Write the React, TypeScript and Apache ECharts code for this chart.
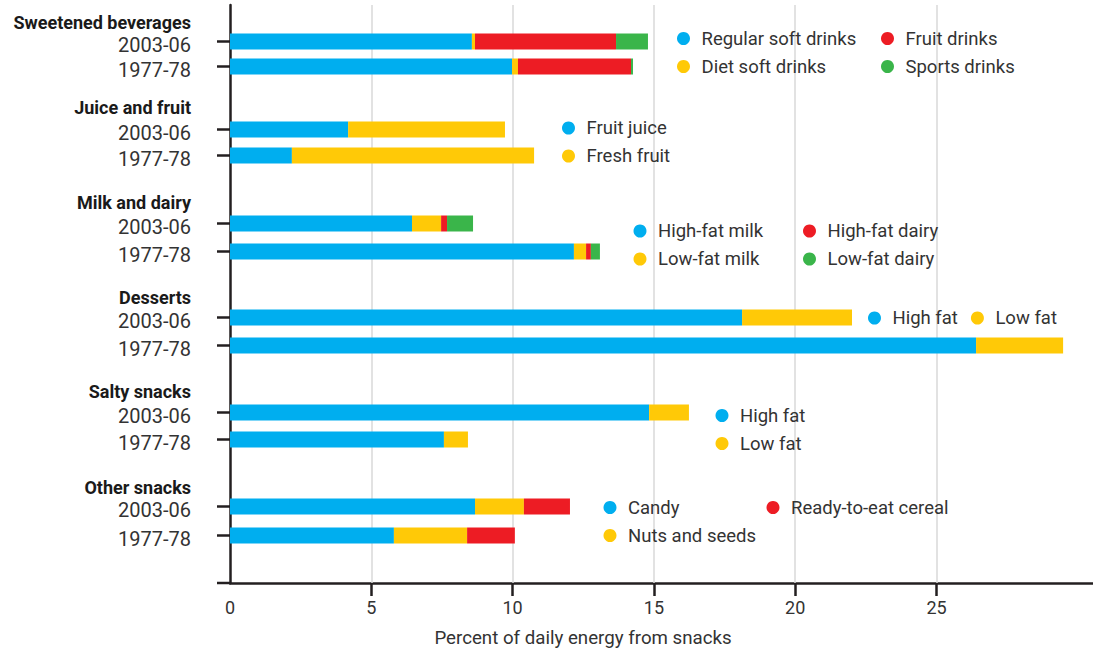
import React, { useEffect, useRef } from 'react';
import * as echarts from 'echarts';

// ---------- data ----------
const groupNames = ['Sweetened beverages', 'Juice and fruit', 'Milk and dairy', 'Desserts', 'Salty snacks', 'Other snacks'];
const periods = ['2003-06', '1977-78'];
const xLabelValues = [0, 5, 10, 15, 20, 25];
const xTickValues = [5, 10, 15, 20, 25];
const gridValues = [5, 10, 15, 20, 25];
const axisTitle = 'Percent of daily energy from snacks';

// each array: [2003-06, 1977-78] in percent of daily energy from snacks
const regularSoftDrinks = [8.56, 9.98];
const dietSoftDrinks = [0.11, 0.21];
const fruitDrinks = [4.99, 4.0];
const sportsDrinks = [1.13, 0.07];
const fruitJuice = [4.18, 2.19];
const freshFruit = [5.55, 8.57];
const highFatMilk = [6.44, 12.17];
const lowFatMilk = [1.03, 0.43];
const highFatDairy = [0.21, 0.17];
const lowFatDairy = [0.92, 0.32];
const dessertsHighFat = [18.12, 26.4];
const dessertsLowFat = [3.89, 3.08];
const saltyHighFat = [14.83, 7.57];
const saltyLowFat = [1.41, 0.85];
const candy = [8.67, 5.8];
const nutsAndSeeds = [1.73, 2.59];
const readyToEatCereal = [1.63, 1.69];

// ---------- layout (category slot positions, one slot per pixel row) ----------
const BLUE = '#00AEEF';
const YELLOW = '#FFC907';
const RED = '#ED1C24';
const GREEN = '#3AB54A';
const AXIS = '#231f20';
const TEXT = '#333333';
const FONT = 'Roboto, "Noto Sans", "DejaVu Sans", sans-serif';

const TOTAL_SLOTS = 578;
const headerSlots = [17, 102, 197, 292, 386, 482];
const rowSlots = [
  [36, 61],
  [124, 150],
  [218, 246],
  [312, 340],
  [407, 434],
  [501, 530],
];

type SlotInfo = { kind: 'none' | 'header' | 'row'; text: string };
const slots: SlotInfo[] = Array.from({ length: TOTAL_SLOTS }, () => ({ kind: 'none', text: '' }));
groupNames.forEach((g, gi) => {
  slots[headerSlots[gi]] = { kind: 'header', text: g };
  periods.forEach((p, pi) => {
    slots[rowSlots[gi][pi]] = { kind: 'row', text: p };
  });
});
const slotKeys = slots.map((_, i) => 'slot' + i);

function rowData(parts: Array<[number, number[]]>) {
  const arr: Array<number | string> = Array.from({ length: TOTAL_SLOTS }, () => '-');
  parts.forEach(([gi, vals]) => {
    vals.forEach((v, pi) => {
      arr[rowSlots[gi][pi]] = v;
    });
  });
  return arr;
}

const seriesDefs: Array<{ name: string; color: string; parts: Array<[number, number[]]> }> = [
  { name: 'Regular soft drinks', color: BLUE, parts: [[0, regularSoftDrinks]] },
  { name: 'Diet soft drinks', color: YELLOW, parts: [[0, dietSoftDrinks]] },
  { name: 'Fruit drinks', color: RED, parts: [[0, fruitDrinks]] },
  { name: 'Sports drinks', color: GREEN, parts: [[0, sportsDrinks]] },
  { name: 'Fruit juice', color: BLUE, parts: [[1, fruitJuice]] },
  { name: 'Fresh fruit', color: YELLOW, parts: [[1, freshFruit]] },
  { name: 'High-fat milk', color: BLUE, parts: [[2, highFatMilk]] },
  { name: 'Low-fat milk', color: YELLOW, parts: [[2, lowFatMilk]] },
  { name: 'High-fat dairy', color: RED, parts: [[2, highFatDairy]] },
  { name: 'Low-fat dairy', color: GREEN, parts: [[2, lowFatDairy]] },
  { name: 'High fat', color: BLUE, parts: [[3, dessertsHighFat], [4, saltyHighFat]] },
  { name: 'Low fat', color: YELLOW, parts: [[3, dessertsLowFat], [4, saltyLowFat]] },
  { name: 'Candy', color: BLUE, parts: [[5, candy]] },
  { name: 'Nuts and seeds', color: YELLOW, parts: [[5, nutsAndSeeds]] },
  { name: 'Ready-to-eat cereal', color: RED, parts: [[5, readyToEatCereal]] },
];

const GRID_LEFT = 230;
const GRID_TOP = 5;
const GRID_BOTTOM = 69;
const PX_PER_UNIT = 28.26;
const X_MAX = (1093 - GRID_LEFT) / PX_PER_UNIT;

function legend(names: string[], left: number, top: number, orient: 'vertical' | 'horizontal' = 'vertical') {
  return {
    data: names,
    left,
    top,
    orient,
    padding: 0,
    icon: 'circle',
    itemWidth: 26,
    itemHeight: 13,
    itemGap: orient === 'vertical' ? 9 : 13,
    selectedMode: false,
    textStyle: { fontSize: 18.5, color: TEXT, lineHeight: 18, fontFamily: FONT },
  };
}

function buildOption() {
  const series = seriesDefs.map((s, i) => {
    const base: any = {
      name: s.name,
      type: 'bar',
      stack: 'total',
      barWidth: 16,
      itemStyle: { color: s.color },
      data: rowData(s.parts),
      emphasis: { disabled: true },
    };
    if (i === 0) {
      base.markLine = {
        silent: true,
        z: 1,
        symbol: ['none', 'none'],
        label: { show: false },
        lineStyle: { color: '#d9d9d9', width: 1.5, type: 'solid' },
        data: gridValues.map((v) => ({ xAxis: v })),
      };
    }
    return base;
  });

  return {
    animation: false,
    backgroundColor: '#ffffff',
    textStyle: { fontFamily: FONT },
    grid: { left: GRID_LEFT, right: 0, top: GRID_TOP, bottom: GRID_BOTTOM, containLabel: false, outerBoundsMode: 'none' },
    legend: [
      legend(['Regular soft drinks', 'Diet soft drinks'], 677, 29),
      legend(['Fruit drinks', 'Sports drinks'], 881, 29),
      legend(['Fruit juice', 'Fresh fruit'], 562, 118.5),
      legend(['High-fat milk', 'Low-fat milk'], 633.5, 221.5),
      legend(['High-fat dairy', 'Low-fat dairy'], 803, 221.5),
      legend(['High fat', 'Low fat'], 868, 308.5, 'horizontal'),
      legend(['High fat', 'Low fat'], 715.5, 406),
      legend(['Candy', 'Nuts and seeds'], 603.5, 498),
      legend(['Ready-to-eat cereal'], 766.5, 498),
    ],
    xAxis: {
      type: 'value',
      min: 0,
      max: X_MAX,
      interval: 5,
      name: axisTitle,
      nameLocation: 'middle',
      nameGap: 45,
      nameTextStyle: { fontSize: 18.7, color: TEXT, fontFamily: FONT, padding: [0, 157, 0, 0] },
      axisLine: { show: true, onZero: false, lineStyle: { color: AXIS, width: 2.5 } },
      axisTick: { show: true, length: 13, customValues: xTickValues, lineStyle: { color: AXIS, width: 2.5 } },
      axisLabel: { customValues: xLabelValues, fontSize: 18, color: TEXT, margin: 15, fontFamily: FONT },
      splitLine: { show: false },
    },
    yAxis: {
      type: 'category',
      inverse: true,
      data: slotKeys,
      axisLine: { show: true, lineStyle: { color: AXIS, width: 2.5 } },
      axisTick: {
        show: true,
        length: 13,
        alignWithLabel: true,
        interval: (i: number) => slots[i].kind === 'row',
        lineStyle: { color: AXIS, width: 2.5 },
      },
      axisLabel: {
        interval: (i: number) => slots[i].kind !== 'none',
        margin: 39,
        formatter: (_v: string, i: number) => {
          const s = slots[i];
          if (s.kind === 'header') return '{h|' + s.text + '}';
          if (s.kind === 'row') return '{y|' + s.text + '}';
          return '';
        },
        rich: {
          h: { fontSize: 18, fontWeight: 'bold', color: '#1a1a1a', fontFamily: FONT },
          y: { fontSize: 20, color: TEXT, fontFamily: FONT, padding: [7, 0, 0, 0] },
        },
      },
      splitLine: { show: false },
    },
    graphic: [
      {
        type: 'line',
        silent: true,
        shape: { x1: 217, y1: 652 - GRID_BOTTOM, x2: GRID_LEFT + 1, y2: 652 - GRID_BOTTOM },
        style: { stroke: AXIS, lineWidth: 2.5 },
      },
    ],
    series,
  };
}

export default function App() {
  const ref = useRef<HTMLDivElement>(null);
  useEffect(() => {
    if (!ref.current) return;
    const chart = echarts.init(ref.current, null, { renderer: 'svg' });
    chart.setOption(buildOption() as any);
    return () => chart.dispose();
  }, []);
  return (
    <div
      ref={ref}
      style={{ position: 'absolute', left: 0, top: 0, width: 1093, height: 652, background: '#ffffff' }}
    />
  );
}
